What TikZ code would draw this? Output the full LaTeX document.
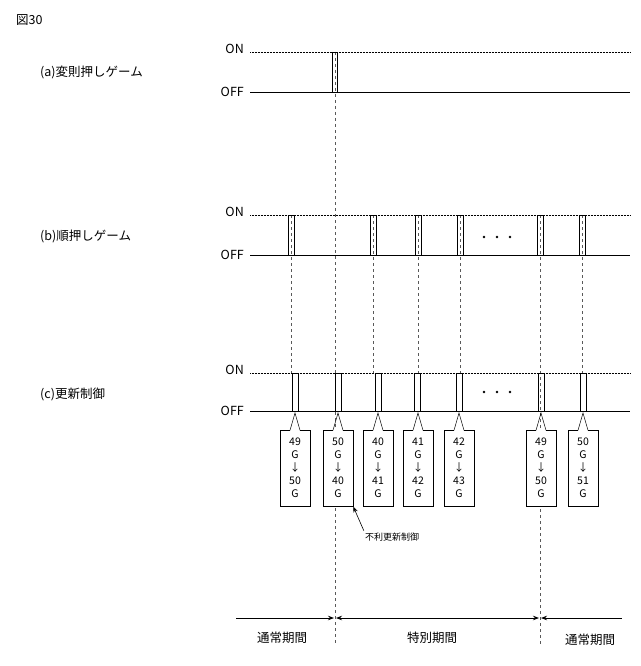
\documentclass[tikz,border=0pt]{standalone}
\usepackage{fontspec}
\setmainfont{Noto Sans CJK JP}
\usetikzlibrary{arrows.meta}
\begin{document}
\begin{tikzpicture}[x=1pt,y=-1pt,
  lbl/.style={font=\fontsize{12.5}{14}\selectfont,inner sep=0pt},
  onl/.style={densely dotted,line width=0.5pt},
  sig/.style={line width=0.8pt},
  guide/.style={dashed,line width=0.5pt,gray!70!black},
  cbox/.style={draw,fill=white,line width=0.5pt,minimum width=30pt,minimum height=76pt,align=center,font=\fontsize{10.5}{13}\selectfont,inner sep=1pt,anchor=north},
  per/.style={line width=0.8pt}]
\useasboundingbox (0,0) rectangle (640,666);
\node[lbl,anchor=west] (fig) at (16,20) {図30};
% guides
\draw[guide] (291,215) -- (291,373);
\draw[guide] (373,215) -- (373,373);
\draw[guide] (418,215) -- (418,373);
\draw[guide] (460,215) -- (460,373);
\draw[guide] (582,215) -- (582,373);
\draw[guide] (335,52) -- (335,645);
\draw[guide] (540,215) -- (540,645);
% labels
\node[lbl,anchor=west] (la) at (40,72) {(a)変則押しゲーム};
\node[lbl,anchor=west] (lb) at (40,236) {(b)順押しゲーム};
\node[lbl,anchor=west] (lc) at (40,394) {(c)更新制御};
\foreach \n/\y in {a/52,b/215,c/373}{
  \node[lbl,anchor=east] (on\n) at (244,\y-3) {ON};
  \draw[onl] (250,\y) -- (630,\y);
}
\foreach \n/\y in {a/92,b/255,c/411}{
  \node[lbl,anchor=east] (off\n) at (244,\y) {OFF};
  \draw[sig] (250,\y) -- (630,\y);
}
% row a pulse
\draw[sig] (332,92) -- (332,52) -- (337,52) -- (337,92);
% row b pulses
\foreach \p in {288,370,415,457,537,579}{
  \draw[sig] (\p,255) -- (\p,215) -- (\p+6,215) -- (\p+6,255);
}
% row c pulses
\foreach \p in {292,335,375,414,456,538,580}{
  \draw[sig] (\p,411) -- (\p,373) -- (\p+6,373) -- (\p+6,411);
}
\foreach \y in {237,392}{
  \foreach \x in {484,497,510} \fill (\x,\y) circle (1.3pt);
}
% callouts
\foreach \x/\a/\b [count=\i] in {295/49/50,338/50/40,378/40/41,418/41/42,459/42/43,541/49/50,583/50/51}{
  \node[cbox] (cb\i) at (\x,430) {\a\\G\\↓\\\b\\G};
  \fill[white] (\x-5,429.8) rectangle (\x+5,430.8);
  \draw[line width=0.5pt] (\x-5,430.3) -- (\x,413) -- (\x+5,430.3);
}
\node[font=\fontsize{9}{11}\selectfont,inner sep=1pt] (fu) at (392,537) {不利更新制御};
\draw[-{Stealth[length=6pt]},line width=0.6pt] (fu.north west) ++(0,-1) coordinate (fs) (fs) -- (cb2.south east);
% periods
\coordinate (p0) at (236,618);
\coordinate (p1) at (335,618);
\coordinate (p2) at (540,618);
\coordinate (p3) at (622,618);
\draw[per,-{Stealth[length=6pt]}] (p0) -- ([xshift=-1pt]p1);
\draw[per,{Stealth[length=6pt]}-{Stealth[length=6pt]}] ([xshift=1pt]p1) -- ([xshift=-1pt]p2);
\draw[per,{Stealth[length=6pt]}-] ([xshift=1pt]p2) -- (p3);
\node[lbl] (n1) at (282,638) {通常期間};
\node[lbl] (n2) at (432,638) {特別期間};
\node[lbl] (n3) at (590,640) {通常期間};
\end{tikzpicture}
\end{document}
